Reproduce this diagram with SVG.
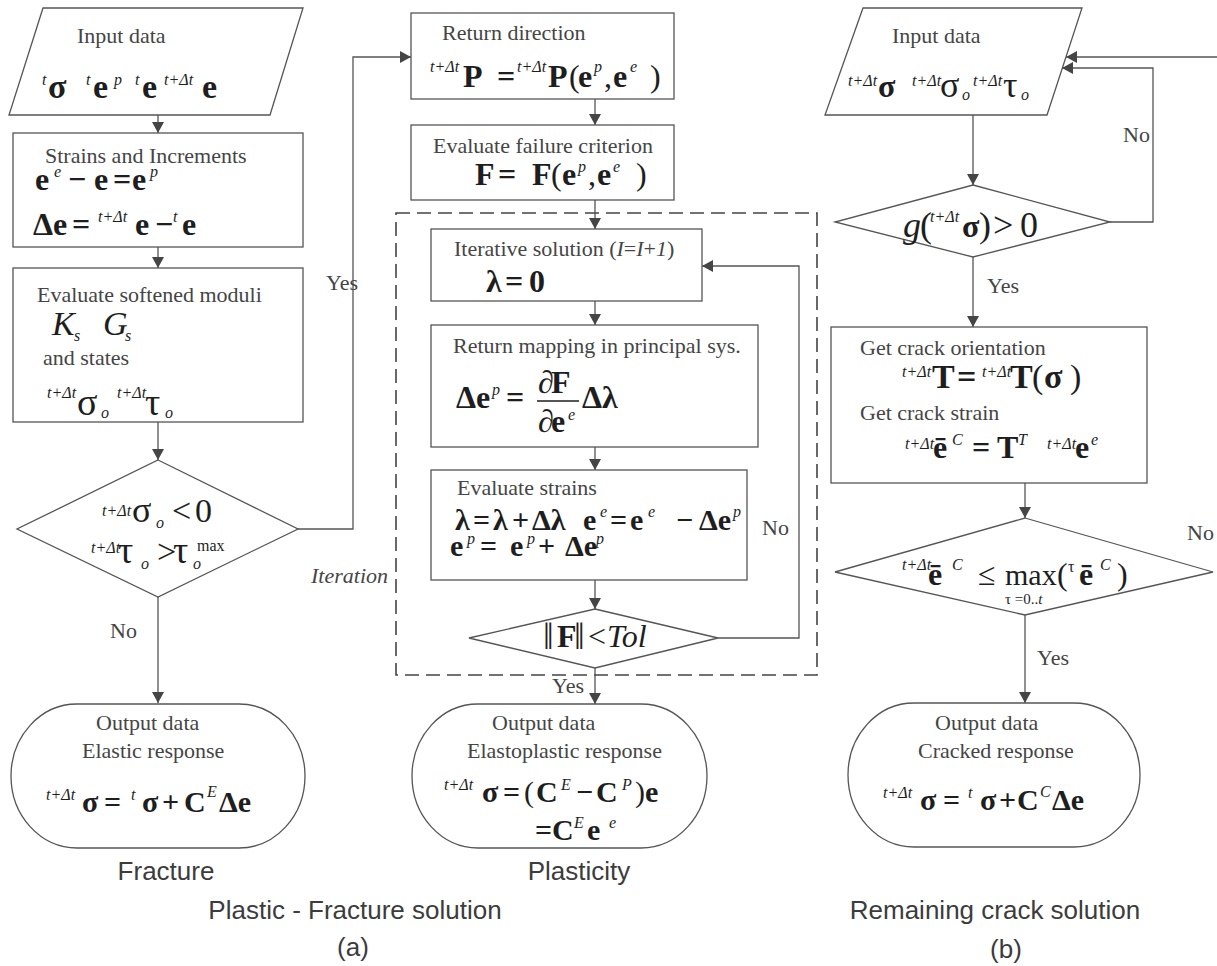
<svg xmlns="http://www.w3.org/2000/svg" width="1217" height="966" viewBox="0 0 1217 966">
<defs>
<marker id="ah" markerUnits="userSpaceOnUse" markerWidth="12" markerHeight="12" refX="11" refY="6" orient="auto">
<path d="M0,0 L11,6 L0,12 Z" fill="#454545"/>
</marker>
<style>
.bx{fill:#fff;stroke:#555;stroke-width:1.3}
.ln{fill:none;stroke:#555;stroke-width:1.3;marker-end:url(#ah)}
.dash{fill:none;stroke:#444;stroke-width:1.6;stroke-dasharray:14 7}
.t{font-family:"Liberation Serif",serif;font-size:22px;fill:#454545}
.ti{font-style:italic}
.f{font-family:"Liberation Serif","DejaVu Serif",serif;font-size:32px;font-weight:bold;fill:#1e1e1e}
.g{font-family:"Liberation Serif","DejaVu Serif",serif;font-size:34px;fill:#1e1e1e}
.r{font-weight:normal}
.i{font-style:italic;font-weight:normal}
.s{font-size:16px;font-weight:normal;font-style:italic}
.u{font-size:16px;font-weight:normal;font-style:normal}
.cap{font-family:"Liberation Sans",sans-serif;font-size:26px;fill:#3c3c3c}
</style>
</defs>
<rect width="1217" height="966" fill="#fff"/>

<g id="connectors">
<path class="ln" d="M158,115 V133"/>
<path class="ln" d="M158,247 V268"/>
<path class="ln" d="M158,422 V460"/>
<path class="ln" d="M158,597 V703"/>
<path class="ln" d="M298,529 H353 V57 H411"/>
<path class="ln" d="M595,99 V125"/>
<path class="ln" d="M595,200 V229"/>
<path class="ln" d="M595,301 V325"/>
<path class="ln" d="M595,447 V470"/>
<path class="ln" d="M595,580 V609"/>
<path class="ln" d="M718,638 H799 V266 H702"/>
<path class="ln" d="M595,668 V704"/>
<path class="ln" d="M973,115 V185"/>
<path class="ln" d="M1110,222 H1153 V68 H1062"/>
<path class="ln" d="M1217,57 H1066"/>
<path class="ln" d="M973,257 V327"/>
<path class="ln" d="M1025,483 V518"/>
<path class="ln" d="M1025,615 V703"/>
<text class="t" x="326" y="290">Yes</text>
<text class="t" x="110" y="638">No</text>
<text class="t" x="762" y="535">No</text>
<text class="t" x="552" y="693">Yes</text>
<text class="t" x="1123" y="142">No</text>
<text class="t" x="987" y="293">Yes</text>
<text class="t" x="1187" y="540">No</text>
<text class="t" x="1037" y="665">Yes</text>
</g>

<g id="iteration-frame">
<rect class="dash" x="396" y="213" width="421" height="462"/>
<text class="t ti" x="311" y="583">Iteration</text>
</g>

<!-- Left column: Fracture -->
<g id="input-left">
<path class="bx" d="M43,8 H303 L270,115 H9 Z"/>
<text class="t" x="77" y="43">Input data</text>
<text class="f" style="font-size:34px"><tspan class="s" x="42" y="85">t</tspan><tspan x="48" y="98">σ</tspan><tspan class="s" x="86" y="85">t</tspan><tspan x="93" y="98">e</tspan><tspan class="s" x="114" y="85">p</tspan><tspan class="s" x="135" y="85">t</tspan><tspan x="142" y="98">e</tspan><tspan class="s" x="164" y="85">t+Δt</tspan><tspan x="202" y="98">e</tspan></text>
</g>

<g id="strains">
<rect class="bx" x="13" y="133" width="290" height="114"/>
<text class="t" x="45" y="163">Strains and Increments</text>
<text class="f"><tspan x="35" y="190">e</tspan><tspan class="s" x="54" y="177">e</tspan><tspan x="68" y="190">−</tspan><tspan x="94" y="190">e</tspan><tspan x="113" y="190">=</tspan><tspan x="132" y="190">e</tspan><tspan class="s" x="150" y="177">p</tspan></text>
<text class="f"><tspan x="33" y="235">Δe</tspan><tspan x="72" y="235">=</tspan><tspan class="s" x="98" y="222">t+Δt</tspan><tspan x="135" y="235">e</tspan><tspan x="155" y="235">−</tspan><tspan class="s" x="173" y="222">t</tspan><tspan x="182" y="235">e</tspan></text>
</g>

<g id="softened">
<rect class="bx" x="13" y="268" width="290" height="154"/>
<text class="t" x="37" y="302">Evaluate softened moduli</text>
<text class="g" style="font-style:italic"><tspan x="52" y="335">K</tspan><tspan class="s" x="74" y="341">s</tspan><tspan x="103" y="335">G</tspan><tspan class="s" x="125" y="341">s</tspan></text>
<text class="t" x="43" y="365">and states</text>
<text class="g" style="font-size:38px"><tspan class="s" x="47" y="398">t+Δt</tspan><tspan x="77" y="415">σ</tspan><tspan class="s" x="101" y="418">o</tspan><tspan class="s" x="117" y="398">t+Δt</tspan><tspan x="145" y="415">τ</tspan><tspan class="s" x="165" y="418">o</tspan></text>
</g>

<g id="check-left">
<path class="bx" d="M158,460 L298,529 L158,597 L17,529 Z"/>
<text class="g" style="font-size:34px"><tspan class="s" x="102" y="516">t+Δt</tspan><tspan x="132" y="522" style="font-size:36px">σ</tspan><tspan class="s" x="156" y="528">o</tspan><tspan x="172" y="522">&lt;</tspan><tspan x="195" y="522">0</tspan></text>
<text class="g" style="font-size:34px"><tspan class="s" x="91" y="553">t+Δt</tspan><tspan x="118" y="563" style="font-size:38px">τ</tspan><tspan class="s" x="141" y="569">o</tspan><tspan x="157" y="563">&gt;</tspan><tspan x="173" y="563" style="font-size:38px">τ</tspan><tspan class="s" x="193" y="569">o</tspan><tspan class="u" x="197" y="551">max</tspan></text>
</g>

<g id="output-left">
<path class="bx" d="M77,704 H239 A66,72 0 0 1 239,848 H77 A66,72 0 0 1 77,704 Z"/>
<text class="t" x="96" y="730">Output data</text>
<text class="t" x="82" y="758">Elastic response</text>
<text class="f" style="font-size:30px"><tspan class="s" x="46" y="800">t+Δt</tspan><tspan x="82" y="812">σ</tspan><tspan x="104" y="812">=</tspan><tspan class="s" x="131" y="800">t</tspan><tspan x="142" y="812">σ</tspan><tspan x="162" y="812">+</tspan><tspan x="184" y="812">C</tspan><tspan class="s" x="207" y="797">E</tspan><tspan x="219" y="812">Δe</tspan></text>
</g>

<!-- Middle column: Plasticity -->
<g id="return-direction">
<rect class="bx" x="411" y="13" width="263" height="86"/>
<text class="t" x="442" y="40">Return direction</text>
<text class="f"><tspan class="s" x="430" y="72">t+Δt</tspan><tspan x="463" y="87">P</tspan><tspan x="497" y="87">=</tspan><tspan class="s" x="517" y="72">t+Δt</tspan><tspan x="548" y="87">P</tspan><tspan class="r" x="569" y="87">(</tspan><tspan x="578" y="87">e</tspan><tspan class="s" x="594" y="72">p</tspan><tspan class="r" x="604" y="87">,</tspan><tspan x="613" y="87">e</tspan><tspan class="s" x="630" y="72">e</tspan><tspan class="r" x="650" y="87">)</tspan></text>
</g>

<g id="failure-criterion">
<rect class="bx" x="411" y="125" width="263" height="75"/>
<text class="t" x="433" y="153">Evaluate failure criterion</text>
<text class="f"><tspan x="475" y="185">F</tspan><tspan x="498" y="185">=</tspan><tspan x="532" y="185">F</tspan><tspan class="r" x="551" y="185">(</tspan><tspan x="562" y="185">e</tspan><tspan class="s" x="578" y="172">p</tspan><tspan class="r" x="588" y="185">,</tspan><tspan x="597" y="185">e</tspan><tspan class="s" x="613" y="172">e</tspan><tspan class="r" x="636" y="185">)</tspan></text>
</g>

<g id="iterative-solution">
<rect class="bx" x="431" y="229" width="271" height="72"/>
<text class="t" x="454" y="256">Iterative solution (<tspan class="ti">I</tspan>=<tspan class="ti">I</tspan>+<tspan class="ti">1</tspan>)</text>
<text class="f"><tspan x="486" y="292">λ</tspan><tspan x="505" y="292">=</tspan><tspan x="529" y="292">0</tspan></text>
</g>

<g id="return-mapping">
<rect class="bx" x="431" y="325" width="327" height="122"/>
<text class="t" x="453" y="353">Return mapping in principal sys.</text>
<text class="f"><tspan x="456" y="408">Δe</tspan><tspan class="s" x="492" y="395">p</tspan><tspan x="506" y="408">=</tspan><tspan class="i" x="538" y="393">∂</tspan><tspan x="551" y="393">F</tspan><tspan class="i" x="538" y="432">∂</tspan><tspan x="551" y="432">e</tspan><tspan class="s" x="568" y="420">e</tspan><tspan x="582" y="408">Δλ</tspan></text>
<line x1="537" y1="401" x2="579" y2="401" stroke="#1e1e1e" stroke-width="1.4"/>
</g>

<g id="evaluate-strains">
<rect class="bx" x="431" y="470" width="316" height="110"/>
<text class="t" x="457" y="495">Evaluate strains</text>
<text class="f" style="font-size:30px"><tspan x="455" y="530">λ</tspan><tspan x="473" y="530">=</tspan><tspan x="493" y="530">λ</tspan><tspan x="512" y="530">+</tspan><tspan x="532" y="530">Δλ</tspan><tspan x="583" y="530">e</tspan><tspan class="s" x="600" y="517">e</tspan><tspan x="610" y="530">=</tspan><tspan x="630" y="530">e</tspan><tspan class="s" x="648" y="517">e</tspan><tspan x="676" y="530">−</tspan><tspan x="699" y="530">Δe</tspan><tspan class="s" x="733" y="517">p</tspan></text>
<text class="f" style="font-size:30px"><tspan x="450" y="556">e</tspan><tspan class="s" x="467" y="544">p</tspan><tspan x="480" y="556">=</tspan><tspan x="510" y="556">e</tspan><tspan class="s" x="527" y="544">p</tspan><tspan x="538" y="556">+</tspan><tspan x="565" y="556">Δe</tspan><tspan class="s" x="596" y="544">p</tspan></text>
</g>

<g id="tolerance-check">
<path class="bx" d="M595,609 L718,638 L595,668 L469,638 Z"/>
<text class="f"><tspan class="r" x="543" y="649" style="font-size:38px">‖</tspan><tspan x="557" y="647">F</tspan><tspan class="r" x="574" y="649" style="font-size:38px">‖</tspan><tspan class="r" x="588" y="647">&lt;</tspan><tspan class="i" x="607" y="647">Tol</tspan></text>
</g>

<g id="output-middle">
<path class="bx" d="M478,704 H641 A66,72 0 0 1 641,848 H478 A66,72 0 0 1 478,704 Z"/>
<text class="t" x="492" y="730">Output data</text>
<text class="t" x="467" y="758">Elastoplastic response</text>
<text class="f" style="font-size:30px"><tspan class="s" x="444" y="790">t+Δt</tspan><tspan x="482" y="802">σ</tspan><tspan x="503" y="802">=</tspan><tspan class="r" x="524" y="802">(</tspan><tspan x="536" y="802">C</tspan><tspan class="s" x="561" y="790">E</tspan><tspan x="576" y="802">−</tspan><tspan x="596" y="802">C</tspan><tspan class="s" x="622" y="790">P</tspan><tspan class="r" x="635" y="802">)</tspan><tspan x="645" y="802">e</tspan></text>
<text class="f" style="font-size:30px"><tspan x="535" y="840">=</tspan><tspan x="552" y="840">C</tspan><tspan class="s" x="574" y="828">E</tspan><tspan x="587" y="840">e</tspan><tspan class="s" x="609" y="828">e</tspan></text>
</g>

<!-- Right column: remaining crack -->
<g id="input-right">
<path class="bx" d="M863,8 H1082 L1047,115 H825 Z"/>
<text class="t" x="892" y="43">Input data</text>
<text class="f"><tspan class="s" x="848" y="86">t+Δt</tspan><tspan x="878" y="97">σ</tspan><tspan class="s" x="912" y="86">t+Δt</tspan><tspan class="r" x="940" y="97" style="font-size:36px">σ</tspan><tspan class="s" x="962" y="100">o</tspan><tspan class="s" x="973" y="86">t+Δt</tspan><tspan class="r" x="1003" y="97" style="font-size:36px">τ</tspan><tspan class="s" x="1021" y="100">o</tspan></text>
</g>

<g id="crack-check">
<path class="bx" d="M973,185 L1110,222 L973,257 L835,222 Z"/>
<text class="g" style="font-size:36px"><tspan class="i" x="903" y="237">g</tspan><tspan x="920" y="237">(</tspan><tspan class="s" x="930" y="222">t+Δt</tspan><tspan x="962" y="237" style="font-weight:bold;font-size:32px">σ</tspan><tspan x="979" y="237">)</tspan><tspan x="993" y="237">&gt;</tspan><tspan x="1020" y="237">0</tspan></text>
</g>

<g id="crack-orientation">
<rect class="bx" x="831" y="327" width="316" height="156"/>
<text class="t" x="860" y="355">Get crack orientation</text>
<text class="f" style="font-size:34px"><tspan class="s" x="902" y="377">t+Δt</tspan><tspan x="932" y="388">T</tspan><tspan x="957" y="388">=</tspan><tspan class="s" x="982" y="377">t+Δt</tspan><tspan x="1010" y="388">T</tspan><tspan class="r" x="1032" y="388">(</tspan><tspan x="1044" y="388">σ</tspan><tspan class="r" x="1070" y="388">)</tspan></text>
<text class="t" x="860" y="420">Get crack strain</text>
<text class="f"><tspan class="s" x="905" y="449">t+Δt</tspan><tspan x="933" y="458">ē</tspan><tspan class="s" x="952" y="445">C</tspan><tspan x="972" y="458">=</tspan><tspan x="997" y="458">T</tspan><tspan class="s" x="1018" y="445">T</tspan><tspan class="s" x="1047" y="449">t+Δt</tspan><tspan x="1075" y="458">e</tspan><tspan class="s" x="1091" y="445">e</tspan></text>
</g>

<g id="strain-check">
<path class="bx" d="M1025,518 L1213,572 L1025,615 L835,572 Z"/>
<text class="f"><tspan class="s" x="902" y="570">t+Δt</tspan><tspan x="928" y="585">ē</tspan><tspan class="s" x="952" y="570">C</tspan><tspan class="r" x="978" y="585">≤</tspan><tspan class="r" x="1005" y="585" style="font-size:30px">max</tspan><tspan class="r" x="1057" y="585">(</tspan><tspan class="u" x="1068" y="572">τ</tspan><tspan x="1079" y="585">ē</tspan><tspan class="s" x="1100" y="570">C</tspan><tspan class="r" x="1117" y="585">)</tspan></text>
<text class="t" x="1005" y="604" style="font-size:15px;fill:#1e1e1e">τ =0..<tspan class="ti">t</tspan></text>
</g>

<g id="output-right">
<path class="bx" d="M914,703 H1074 A66,72 0 0 1 1074,847 H914 A66,72 0 0 1 914,703 Z"/>
<text class="t" x="935" y="730">Output data</text>
<text class="t" x="918" y="758">Cracked response</text>
<text class="f" style="font-size:30px"><tspan class="s" x="883" y="798">t+Δt</tspan><tspan x="920" y="810">σ</tspan><tspan x="943" y="810">=</tspan><tspan class="s" x="968" y="798">t</tspan><tspan x="980" y="810">σ</tspan><tspan x="999" y="810">+</tspan><tspan x="1017" y="810">C</tspan><tspan class="s" x="1040" y="797">C</tspan><tspan x="1052" y="810">Δe</tspan></text>
</g>

<g id="captions">
<text class="cap" x="166" y="880" text-anchor="middle">Fracture</text>
<text class="cap" x="579" y="880" text-anchor="middle">Plasticity</text>
<text class="cap" x="355" y="919" text-anchor="middle">Plastic - Fracture solution</text>
<text class="cap" x="353" y="956" text-anchor="middle">(a)</text>
<text class="cap" x="995" y="919" text-anchor="middle">Remaining crack solution</text>
<text class="cap" x="1006" y="958" text-anchor="middle">(b)</text>
</g>
</svg>
